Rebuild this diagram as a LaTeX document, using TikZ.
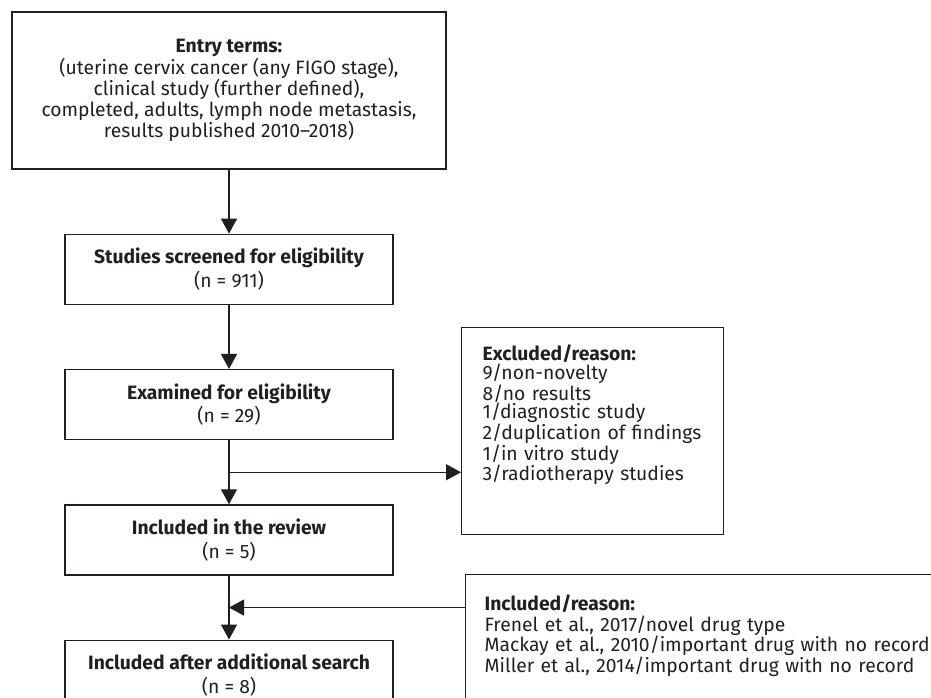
\documentclass[tikz,border=0pt]{standalone}
\usepackage{fontspec}
\setmainfont{Fira Sans}
\usetikzlibrary{arrows.meta,positioning,calc}
\definecolor{ink}{HTML}{231F20}

\begin{document}
\begin{tikzpicture}[x=1pt,y=1pt]

\tikzset{
  box/.style={draw=ink, line width=1.3pt, text=ink, align=center,
    minimum width=328pt, minimum height=70pt, inner sep=0pt,
    font=\fontsize{19.3}{23.5}\selectfont},
  reason box/.style={draw=ink, line width=1.3pt, text=ink, align=left,
    anchor=north west, text height=13pt, inner xsep=21pt,
    font=\fontsize{19.3}{18.8}\selectfont},
  flow/.style={draw=ink, line width=1.3pt, -{Triangle[length=15pt,width=16pt]}},
  node distance=64pt
}

\clip (0,0) rectangle (931,-698);

% main column
\node[box, minimum width=434pt, minimum height=157pt,
  font=\fontsize{19.3}{18.4}\selectfont] (entry) at (229,-90.5)
  {\textbf{Entry terms:}\\
   (uterine cervix cancer (any FIGO stage),\\
   clinical study (further defined),\\
   completed, adults, lymph node metastasis,\\
   results published 2010--2018)};
\node[box, below=of entry] (screen) {\textbf{Studies screened for eligibility}\\ (n = 911)};
\node[box, below=of screen] (exam) {\textbf{Examined for eligibility}\\ (n = 29)};
\node[box, below=of exam] (review) {\textbf{Included in the review}\\ (n = 5)};
\node[box, below=of review] (final) {\textbf{Included after additional search}\\ (n = 8)};

% side boxes
\node[reason box, inner ysep=20pt, text width=220pt, text depth=154pt] (excl) at (461,-327)
  {\textbf{Excluded/reason:}\\
   9/non-novelty\\
   8/no results\\
   1/diagnostic study\\
   2/duplication of findings\\
   1/in vitro study\\
   3/radiotherapy studies};
\node[reason box, inner xsep=19pt, inner ysep=23pt, text width=460pt, text depth=90pt,
  font=\fontsize{19.3}{20.5}\selectfont] (incl) at (465,-574)
  {\textbf{Included/reason:}\\
   Frenel et al., 2017/novel drug type\\
   Mackay et al., 2010/important drug with no record\\
   Miller et al., 2014/important drug with no record};

\coordinate (split) at ($(exam.south)!0.5!(review.north)$);
\coordinate (join) at ($(review.south)!0.5!(final.north)$);

\draw[flow] (entry) -- (screen);
\draw[flow] (screen) -- (exam);
\draw[flow] (exam) -- (review);
\draw[flow] (split) -- (split -| excl.west);
\draw[flow] (review) -- (final);
\draw[flow] (join -| incl.west) -- (join);

\end{tikzpicture}
\end{document}
